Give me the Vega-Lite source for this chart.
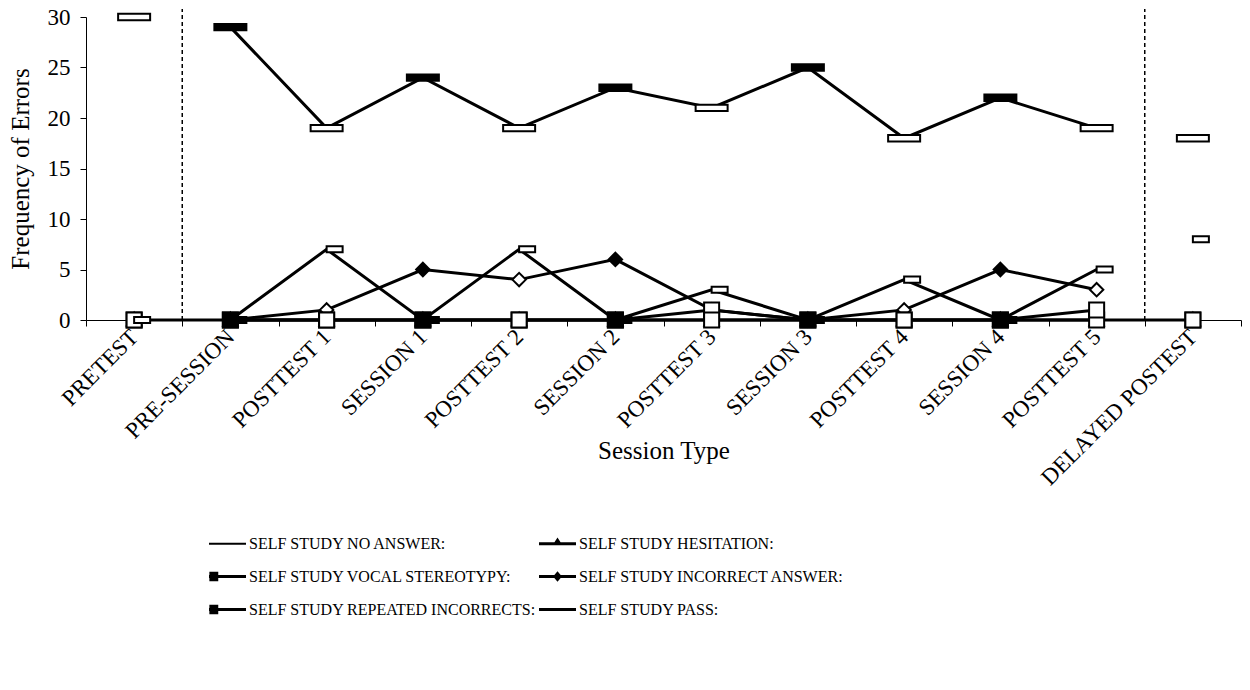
{
  "$schema": "https://vega.github.io/schema/vega-lite/v6.json",
  "width": 1155,
  "height": 303,
  "autosize": "none",
  "padding": {"left": 86, "top": 17, "right": 9, "bottom": 370},
  "background": "white",
  "config": {
    "font": "Liberation Serif",
    "view": {"stroke": null},
    "axis": {
      "labelFont": "Liberation Serif",
      "labelFontSize": 23,
      "labelColor": "black",
      "titleFont": "Liberation Serif",
      "titleFontSize": 25,
      "titleFontWeight": "normal",
      "titleColor": "black",
      "domainColor": "black",
      "domainWidth": 1,
      "tickColor": "black",
      "tickSize": 6,
      "grid": false
    },
    "axisX": {
      "labelAngle": -45,
      "labelAlign": "right",
      "labelBaseline": "middle",
      "labelPadding": 7,
      "tickBand": "extent",
      "titleY": 130,
      "titleBaseline": "middle",
      "labelLimit": 400
    },
    "axisY": {
      "labelPadding": 10,
      "titleX": -66,
      "titleBaseline": "middle"
    }
  },
  "datasets": {
    "dividers": [
      {"session": "PRE-SESSION"},
      {"session": "DELAYED POSTEST"}
    ],
    "errors": [
      {"session": "PRETEST", "series": "SELF STUDY PASS:", "errors": 30},
      {"session": "PRE-SESSION", "series": "SELF STUDY PASS:", "errors": 29},
      {"session": "POSTTEST 1", "series": "SELF STUDY PASS:", "errors": 19},
      {"session": "SESSION 1", "series": "SELF STUDY PASS:", "errors": 24},
      {"session": "POSTTEST 2", "series": "SELF STUDY PASS:", "errors": 19},
      {"session": "SESSION 2", "series": "SELF STUDY PASS:", "errors": 23},
      {"session": "POSTTEST 3", "series": "SELF STUDY PASS:", "errors": 21},
      {"session": "SESSION 3", "series": "SELF STUDY PASS:", "errors": 25},
      {"session": "POSTTEST 4", "series": "SELF STUDY PASS:", "errors": 18},
      {"session": "SESSION 4", "series": "SELF STUDY PASS:", "errors": 22},
      {"session": "POSTTEST 5", "series": "SELF STUDY PASS:", "errors": 19},
      {"session": "DELAYED POSTEST", "series": "SELF STUDY PASS:", "errors": 18},

      {"session": "PRETEST", "series": "SELF STUDY HESITATION:", "errors": 0},
      {"session": "PRE-SESSION", "series": "SELF STUDY HESITATION:", "errors": 0},
      {"session": "POSTTEST 1", "series": "SELF STUDY HESITATION:", "errors": 0},
      {"session": "SESSION 1", "series": "SELF STUDY HESITATION:", "errors": 0},
      {"session": "POSTTEST 2", "series": "SELF STUDY HESITATION:", "errors": 0},
      {"session": "SESSION 2", "series": "SELF STUDY HESITATION:", "errors": 0},
      {"session": "POSTTEST 3", "series": "SELF STUDY HESITATION:", "errors": 0},
      {"session": "SESSION 3", "series": "SELF STUDY HESITATION:", "errors": 0},
      {"session": "POSTTEST 4", "series": "SELF STUDY HESITATION:", "errors": 0},
      {"session": "SESSION 4", "series": "SELF STUDY HESITATION:", "errors": 0},
      {"session": "POSTTEST 5", "series": "SELF STUDY HESITATION:", "errors": 0},
      {"session": "DELAYED POSTEST", "series": "SELF STUDY HESITATION:", "errors": 0},

      {"session": "PRETEST", "series": "SELF STUDY INCORRECT ANSWER:", "errors": 0},
      {"session": "PRE-SESSION", "series": "SELF STUDY INCORRECT ANSWER:", "errors": 0},
      {"session": "POSTTEST 1", "series": "SELF STUDY INCORRECT ANSWER:", "errors": 1},
      {"session": "SESSION 1", "series": "SELF STUDY INCORRECT ANSWER:", "errors": 5},
      {"session": "POSTTEST 2", "series": "SELF STUDY INCORRECT ANSWER:", "errors": 4},
      {"session": "SESSION 2", "series": "SELF STUDY INCORRECT ANSWER:", "errors": 6},
      {"session": "POSTTEST 3", "series": "SELF STUDY INCORRECT ANSWER:", "errors": 1},
      {"session": "SESSION 3", "series": "SELF STUDY INCORRECT ANSWER:", "errors": 0},
      {"session": "POSTTEST 4", "series": "SELF STUDY INCORRECT ANSWER:", "errors": 1},
      {"session": "SESSION 4", "series": "SELF STUDY INCORRECT ANSWER:", "errors": 5},
      {"session": "POSTTEST 5", "series": "SELF STUDY INCORRECT ANSWER:", "errors": 3},
      {"session": "DELAYED POSTEST", "series": "SELF STUDY INCORRECT ANSWER:", "errors": 0},

      {"session": "PRETEST", "series": "SELF STUDY VOCAL STEREOTYPY:", "errors": 0},
      {"session": "PRE-SESSION", "series": "SELF STUDY VOCAL STEREOTYPY:", "errors": 0},
      {"session": "POSTTEST 1", "series": "SELF STUDY VOCAL STEREOTYPY:", "errors": 0},
      {"session": "SESSION 1", "series": "SELF STUDY VOCAL STEREOTYPY:", "errors": 0},
      {"session": "POSTTEST 2", "series": "SELF STUDY VOCAL STEREOTYPY:", "errors": 0},
      {"session": "SESSION 2", "series": "SELF STUDY VOCAL STEREOTYPY:", "errors": 0},
      {"session": "POSTTEST 3", "series": "SELF STUDY VOCAL STEREOTYPY:", "errors": 1},
      {"session": "SESSION 3", "series": "SELF STUDY VOCAL STEREOTYPY:", "errors": 0},
      {"session": "POSTTEST 4", "series": "SELF STUDY VOCAL STEREOTYPY:", "errors": 0},
      {"session": "SESSION 4", "series": "SELF STUDY VOCAL STEREOTYPY:", "errors": 0},
      {"session": "POSTTEST 5", "series": "SELF STUDY VOCAL STEREOTYPY:", "errors": 0},
      {"session": "DELAYED POSTEST", "series": "SELF STUDY VOCAL STEREOTYPY:", "errors": 0},

      {"session": "PRETEST", "series": "SELF STUDY REPEATED INCORRECTS:", "errors": 0},
      {"session": "PRE-SESSION", "series": "SELF STUDY REPEATED INCORRECTS:", "errors": 0},
      {"session": "POSTTEST 1", "series": "SELF STUDY REPEATED INCORRECTS:", "errors": 0},
      {"session": "SESSION 1", "series": "SELF STUDY REPEATED INCORRECTS:", "errors": 0},
      {"session": "POSTTEST 2", "series": "SELF STUDY REPEATED INCORRECTS:", "errors": 0},
      {"session": "SESSION 2", "series": "SELF STUDY REPEATED INCORRECTS:", "errors": 0},
      {"session": "POSTTEST 3", "series": "SELF STUDY REPEATED INCORRECTS:", "errors": 0},
      {"session": "SESSION 3", "series": "SELF STUDY REPEATED INCORRECTS:", "errors": 0},
      {"session": "POSTTEST 4", "series": "SELF STUDY REPEATED INCORRECTS:", "errors": 0},
      {"session": "SESSION 4", "series": "SELF STUDY REPEATED INCORRECTS:", "errors": 0},
      {"session": "POSTTEST 5", "series": "SELF STUDY REPEATED INCORRECTS:", "errors": 1},
      {"session": "DELAYED POSTEST", "series": "SELF STUDY REPEATED INCORRECTS:", "errors": 0},

      {"session": "PRETEST", "series": "SELF STUDY NO ANSWER:", "errors": 0},
      {"session": "PRE-SESSION", "series": "SELF STUDY NO ANSWER:", "errors": 0},
      {"session": "POSTTEST 1", "series": "SELF STUDY NO ANSWER:", "errors": 7},
      {"session": "SESSION 1", "series": "SELF STUDY NO ANSWER:", "errors": 0},
      {"session": "POSTTEST 2", "series": "SELF STUDY NO ANSWER:", "errors": 7},
      {"session": "SESSION 2", "series": "SELF STUDY NO ANSWER:", "errors": 0},
      {"session": "POSTTEST 3", "series": "SELF STUDY NO ANSWER:", "errors": 3},
      {"session": "SESSION 3", "series": "SELF STUDY NO ANSWER:", "errors": 0},
      {"session": "POSTTEST 4", "series": "SELF STUDY NO ANSWER:", "errors": 4},
      {"session": "SESSION 4", "series": "SELF STUDY NO ANSWER:", "errors": 0},
      {"session": "POSTTEST 5", "series": "SELF STUDY NO ANSWER:", "errors": 5},
      {"session": "DELAYED POSTEST", "series": "SELF STUDY NO ANSWER:", "errors": 8}
    ]
  },
  "resolve": {"scale": {"shape": "independent"}, "legend": {"shape": "independent"}},
  "layer": [
    {
      "data": {"name": "dividers"},
      "mark": {"type": "rule", "color": "black", "strokeWidth": 1.5, "strokeDash": [4, 3], "clip": false},
      "encoding": {
        "x": {
          "field": "session", "type": "nominal", "bandPosition": 0, "title": "Session Type",
          "scale": {"type": "band", "paddingInner": 0, "paddingOuter": 0, "domain": ["PRETEST","PRE-SESSION","POSTTEST 1","SESSION 1","POSTTEST 2","SESSION 2","POSTTEST 3","SESSION 3","POSTTEST 4","SESSION 4","POSTTEST 5","DELAYED POSTEST"]},
          "sort": ["PRETEST","PRE-SESSION","POSTTEST 1","SESSION 1","POSTTEST 2","SESSION 2","POSTTEST 3","SESSION 3","POSTTEST 4","SESSION 4","POSTTEST 5","DELAYED POSTEST"]
        },
        "y": {"datum": 0, "type": "quantitative", "title": "Frequency of Errors"},
        "y2": {"datum": 30.8}
      }
    },
    {
      "data": {"name": "errors"},
      "transform": [
        {"filter": "datum.series === 'SELF STUDY HESITATION:' || (datum.session !== 'PRETEST' && datum.session !== 'DELAYED POSTEST')"}
      ],
      "mark": {"type": "line", "color": "black", "strokeWidth": 3, "strokeJoin": "miter"},
      "encoding": {
        "x": {
          "field": "session", "type": "nominal", "title": "Session Type",
          "scale": {"type": "band", "paddingInner": 0, "paddingOuter": 0, "domain": ["PRETEST","PRE-SESSION","POSTTEST 1","SESSION 1","POSTTEST 2","SESSION 2","POSTTEST 3","SESSION 3","POSTTEST 4","SESSION 4","POSTTEST 5","DELAYED POSTEST"]},
          "sort": ["PRETEST","PRE-SESSION","POSTTEST 1","SESSION 1","POSTTEST 2","SESSION 2","POSTTEST 3","SESSION 3","POSTTEST 4","SESSION 4","POSTTEST 5","DELAYED POSTEST"],
          "axis": {"title": "Session Type"}
        },
        "y": {
          "field": "errors", "type": "quantitative", "title": "Frequency of Errors",
          "scale": {"domain": [0, 30], "nice": false, "zero": true},
          "axis": {"values": [0, 5, 10, 15, 20, 25, 30], "title": "Frequency of Errors"}
        },
        "detail": {"field": "series"}
      }
    },
    {
      "data": {"name": "errors"},
      "mark": {"type": "point", "filled": true, "color": "black", "fill": "black", "opacity": 0, "size": 10},
      "encoding": {
        "x": {
          "field": "session", "type": "nominal", "title": "Session Type",
          "scale": {"type": "band", "paddingInner": 0, "paddingOuter": 0, "domain": ["PRETEST","PRE-SESSION","POSTTEST 1","SESSION 1","POSTTEST 2","SESSION 2","POSTTEST 3","SESSION 3","POSTTEST 4","SESSION 4","POSTTEST 5","DELAYED POSTEST"]},
          "sort": ["PRETEST","PRE-SESSION","POSTTEST 1","SESSION 1","POSTTEST 2","SESSION 2","POSTTEST 3","SESSION 3","POSTTEST 4","SESSION 4","POSTTEST 5","DELAYED POSTEST"]
        },
        "y": {"field": "errors", "type": "quantitative", "title": "Frequency of Errors"},
        "shape": {
          "field": "series",
          "type": "nominal",
          "scale": {
            "domain": ["SELF STUDY NO ANSWER:", "SELF STUDY VOCAL STEREOTYPY:", "SELF STUDY REPEATED INCORRECTS:", "SELF STUDY HESITATION:", "SELF STUDY INCORRECT ANSWER:", "SELF STUDY PASS:"],
            "range": [
              "M-1,-0.06H1V0.06H-1Z",
              "M-1,-0.08H1V0.08H-1ZM-0.98,-0.26H-0.5V0.26H-0.98Z",
              "M-1,-0.08H1V0.08H-1ZM-0.98,-0.26H-0.5V0.26H-0.98Z",
              "M-1,-0.08H1V0.08H-1ZM0,-0.34L0.27,0.08H-0.27Z",
              "M-1,-0.08H1V0.08H-1ZM0,-0.28L0.24,0L0,0.28L-0.24,0Z",
              "M-1,-0.08H1V0.08H-1Z"
            ]
          },
          "legend": {
            "title": null,
            "orient": "none",
            "legendX": 122,
            "legendY": 507,
            "columns": 2,
            "symbolSize": 1369,
            "symbolFillColor": "black",
            "symbolOpacity": 1,
            "labelFont": "Liberation Serif",
            "labelFontSize": 16,
            "labelColor": "black",
            "labelOffset": 2,
            "labelLimit": 500,
            "columnPadding": 0,
            "rowPadding": 5
          }
        }
      }
    },
    {
      "data": {"name": "errors"},
      "transform": [{"filter": "indexof(datum.session, 'SESSION') < 0"}],
      "mark": {"type": "point", "filled": false, "fill": "white", "size": 1024, "strokeWidth": 2, "stroke": "black", "opacity": 1, "clip": false},
      "encoding": {
        "x": {
          "field": "session", "type": "nominal", "title": "Session Type",
          "scale": {"type": "band", "paddingInner": 0, "paddingOuter": 0, "domain": ["PRETEST","PRE-SESSION","POSTTEST 1","SESSION 1","POSTTEST 2","SESSION 2","POSTTEST 3","SESSION 3","POSTTEST 4","SESSION 4","POSTTEST 5","DELAYED POSTEST"]},
          "sort": ["PRETEST","PRE-SESSION","POSTTEST 1","SESSION 1","POSTTEST 2","SESSION 2","POSTTEST 3","SESSION 3","POSTTEST 4","SESSION 4","POSTTEST 5","DELAYED POSTEST"]
        },
        "y": {"field": "errors", "type": "quantitative", "title": "Frequency of Errors"},
        "shape": {
          "field": "series",
          "type": "nominal",
          "scale": {
            "domain": ["SELF STUDY NO ANSWER:", "SELF STUDY VOCAL STEREOTYPY:", "SELF STUDY REPEATED INCORRECTS:", "SELF STUDY HESITATION:", "SELF STUDY INCORRECT ANSWER:", "SELF STUDY PASS:"],
            "range": [
              "M0,-0.19H1V0.19H0Z",
              "M-0.47,-0.47H0.47V0.47H-0.47Z",
              "M-0.47,-0.47H0.47V0.47H-0.47Z",
              "M0,-0.45L0.45,0.35H-0.45Z",
              "M0,-0.42L0.42,0L0,0.42L-0.42,0Z",
              "M-1,-0.2H1V0.2H-1Z"
            ]
          },
          "legend": null
        }
      }
    },
    {
      "data": {"name": "errors"},
      "transform": [{"filter": "indexof(datum.session, 'SESSION') >= 0"}],
      "mark": {"type": "point", "filled": true, "fill": "black", "size": 1024, "strokeWidth": 2, "stroke": "black", "opacity": 1, "clip": false},
      "encoding": {
        "x": {
          "field": "session", "type": "nominal", "title": "Session Type",
          "scale": {"type": "band", "paddingInner": 0, "paddingOuter": 0, "domain": ["PRETEST","PRE-SESSION","POSTTEST 1","SESSION 1","POSTTEST 2","SESSION 2","POSTTEST 3","SESSION 3","POSTTEST 4","SESSION 4","POSTTEST 5","DELAYED POSTEST"]},
          "sort": ["PRETEST","PRE-SESSION","POSTTEST 1","SESSION 1","POSTTEST 2","SESSION 2","POSTTEST 3","SESSION 3","POSTTEST 4","SESSION 4","POSTTEST 5","DELAYED POSTEST"]
        },
        "y": {"field": "errors", "type": "quantitative", "title": "Frequency of Errors"},
        "shape": {
          "field": "series",
          "type": "nominal",
          "scale": {
            "domain": ["SELF STUDY NO ANSWER:", "SELF STUDY VOCAL STEREOTYPY:", "SELF STUDY REPEATED INCORRECTS:", "SELF STUDY HESITATION:", "SELF STUDY INCORRECT ANSWER:", "SELF STUDY PASS:"],
            "range": [
              "M0,-0.19H1V0.19H0Z",
              "M-0.47,-0.47H0.47V0.47H-0.47Z",
              "M-0.47,-0.47H0.47V0.47H-0.47Z",
              "M0,-0.45L0.45,0.35H-0.45Z",
              "M0,-0.42L0.42,0L0,0.42L-0.42,0Z",
              "M-1,-0.2H1V0.2H-1Z"
            ]
          },
          "legend": null
        }
      }
    }
  ]
}
